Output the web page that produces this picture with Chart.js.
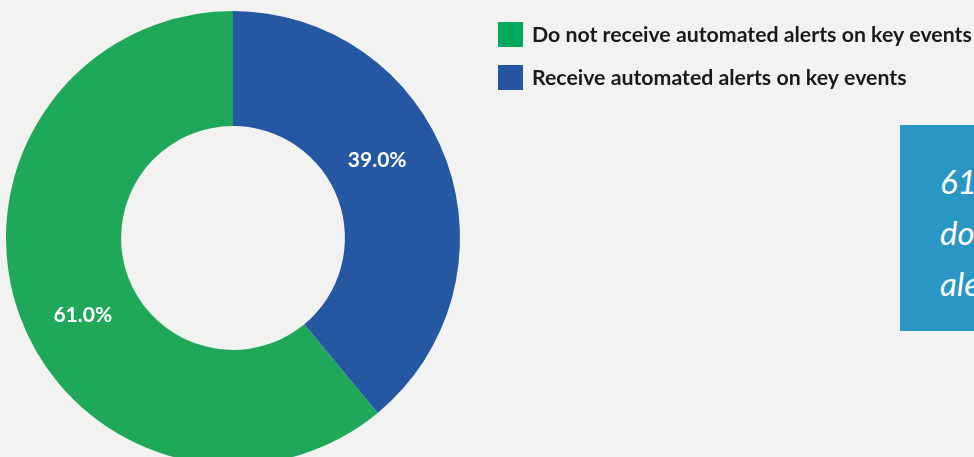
<!DOCTYPE html>
<html>
<head>
<meta charset="utf-8">
<script src="https://cdn.jsdelivr.net/npm/chart.js@4"></script>
<style>
  html, body { margin: 0; padding: 0; background: #f2f2f0; overflow: hidden; }
  #wrap { position: relative; width: 974px; height: 457px; overflow: hidden; }
  #chartBox { position: absolute; left: 0; top: 0; width: 974px; height: 476px; }
  .callout {
    position: absolute; left: 900px; top: 125px; width: 340px; height: 206px;
    background: #2a96c4; color: #fff; font-family: Lato, sans-serif;
    font-style: italic; font-size: 33px; line-height: 51px;
    box-sizing: border-box; padding: 31px 0 0 40px; white-space: nowrap;
  }
</style>
</head>
<body>
<div id="wrap">
  <div id="chartBox"><canvas id="myChart"></canvas></div>
  <div class="callout">61.0% of organizations<br>do not receive automated<br>alerts on key events</div>
</div>
<script>
const labels = [
  'Do not receive automated alerts on key events',
  'Receive automated alerts on key events',
];
const shares = [61.0, 39.0];
const sliceColors = ['#1fa85a', '#2557a3'];
const legendColors = ['#00a95c', '#2555a0'];

// percentage labels sit inside each ring segment
const sliceLabels = {
  id: 'sliceLabels',
  afterDatasetsDraw(chart) {
    const ctx = chart.ctx;
    const meta = chart.getDatasetMeta(0);
    ctx.save();
    ctx.fillStyle = '#fff';
    ctx.font = 'bold 21px Lato, sans-serif';
    ctx.textAlign = 'center';
    ctx.textBaseline = 'middle';
    meta.data.forEach((arc, i) => {
      const p = arc.getProps(['x', 'y', 'startAngle', 'endAngle', 'innerRadius', 'outerRadius']);
      const mid = (p.startAngle + p.endAngle) / 2 - 0.14;
      const r = (p.innerRadius + p.outerRadius) / 2 - 3;
      ctx.fillText(shares[i].toFixed(1) + '%', p.x + Math.cos(mid) * r - 3, p.y + Math.sin(mid) * r);
    });
    ctx.restore();
  }
};

// legend on the right, drawn from the same labels
const sideLegend = {
  id: 'sideLegend',
  afterDraw(chart) {
    const ctx = chart.ctx;
    ctx.save();
    ctx.font = 'bold 21.3px Lato, sans-serif';
    ctx.textBaseline = 'middle';
    labels.forEach((text, i) => {
      const y = 22 + i * 43;
      ctx.fillStyle = legendColors[i];
      ctx.fillRect(498, y, 25, 25);
      ctx.fillStyle = '#1a1a1a';
      ctx.fillText(text, 532, y + 13);
    });
    ctx.restore();
  }
};

const data = {
  labels: labels,
  datasets: [{
    data: shares,
    backgroundColor: sliceColors,
    borderWidth: 0,
  }]
};

const config = {
  type: 'doughnut',
  data: data,
  options: {
    responsive: true,
    maintainAspectRatio: false,
    animation: false,
    cutout: '49.3%',
    // second slice runs clockwise from 12 o'clock, the first fills the rest
    rotation: shares[1] / 100 * 360,
    layout: { padding: { left: 6, top: 11, right: 514, bottom: 11 } },
    plugins: {
      legend: { display: false },
      tooltip: { enabled: false }
    }
  },
  plugins: [sliceLabels, sideLegend]
};

const myChart = new Chart(document.getElementById('myChart'), config);
</script>
</body>
</html>
